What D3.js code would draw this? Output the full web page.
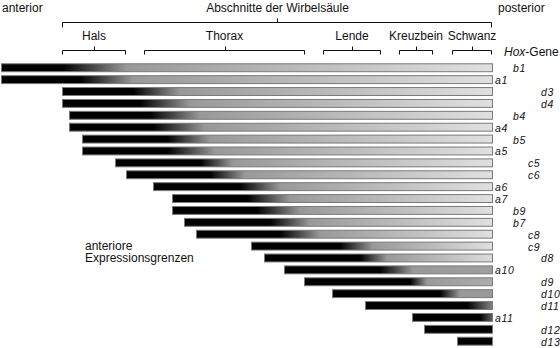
<!DOCTYPE html>
<html>
<head>
<meta charset="utf-8">
<script src="https://cdn.jsdelivr.net/npm/d3@7"></script>
<style>
  html, body { margin: 0; padding: 0; background: #fff; }
  svg { display: block; font-family: "Liberation Sans", Arial, Helvetica, sans-serif; }
</style>
</head>
<body>
<svg id="chart" width="560" height="348"></svg>
<script>
// Hox genes (rows, top to bottom)
const genes = ["b1","a1","d3","d4","b4","a4","b5","a5","c5","c6","a6","a7","b9","b7","c8","c9","d8","a10","d9","d10","d11","a11","d12","d13"];
// anterior expression boundary (position along body axis, posterior end = 492)
const anteriorStart = [1,1,62,62,69,69,82,82,115,126,153,172,172,184,196,251,264,284,304,332,365,412,424,457];
// position where strong (black) expression ends
const blackEnd = [63,80,133,140,150,153,167,167,200,210,240,247,257,270,280,340,360,380,410,440,467,480,492,492];
// position where expression has faded to mid grey
const grayPoint = [127,133,180,190,200,205,210,215,233,245,280,290,300,310,320,373,387,413,427,460,492,492,492,492];
// grey level at the posterior end (0 = black, 1 = white)
const endShade = [0.88,0.88,0.88,0.88,0.88,0.88,0.88,0.88,0.88,0.88,0.88,0.88,0.88,0.88,0.88,0.87,0.86,0.62,0.68,0.6,0.5,0.36,0,0];
const posteriorEnd = 492;

// vertebral column regions
const regions = ["Hals","Thorax","Lende","Kreuzbein","Schwanz"];
const regionStart = [62,144,323,399,452];
const regionEnd = [126,305,381,433,492];

const svg = d3.select("#chart");
const x = d3.scaleLinear().domain([0, posteriorEnd]).range([0, 492]);
const y = d3.scaleBand().domain(genes).range([61.8, 61.8 + 24 * 11.89]).paddingInner(0.25).paddingOuter(0.125);
const labelX = d3.scaleOrdinal().domain(["a","b","c","d"]).range([495, 513, 528, 541]);
const grey = v => d3.rgb(255 * v, 255 * v, 255 * v).formatHex();

// gradients
const defs = svg.append("defs");
genes.forEach((g, i) => {
  const s = anteriorStart[i], e = posteriorEnd;
  const off = p => Math.max(0, Math.min(1, (p - s) / (e - s)));
  const grad = defs.append("linearGradient")
    .attr("id", "grad" + i)
    .attr("gradientUnits", "userSpaceOnUse")
    .attr("x1", x(s)).attr("x2", x(e)).attr("y1", 0).attr("y2", 0);
  const midShade = grayPoint[i] >= e ? endShade[i] : 0.6;
  grad.append("stop").attr("offset", 0).attr("stop-color", "#000");
  grad.append("stop").attr("offset", off(blackEnd[i])).attr("stop-color", "#000");
  grad.append("stop").attr("offset", off(grayPoint[i])).attr("stop-color", grey(midShade));
  grad.append("stop").attr("offset", 1).attr("stop-color", grey(endShade[i]));
});

// bars
svg.append("g").selectAll("rect").data(genes).join("rect")
  .attr("x", (d, i) => x(anteriorStart[i]) + 0.5)
  .attr("y", d => y(d) + 0.5)
  .attr("width", (d, i) => x(posteriorEnd) - x(anteriorStart[i]))
  .attr("height", y.bandwidth() - 1)
  .attr("fill", (d, i) => `url(#grad${i})`)
  .attr("stroke", "#7a7a7a")
  .attr("stroke-width", 1);

// gene labels
svg.append("g").selectAll("text").data(genes).join("text")
  .attr("x", d => labelX(d[0]))
  .attr("y", d => y(d) + y.bandwidth() / 2 + 4.5)
  .attr("font-size", 10.5)
  .attr("font-style", "italic")
  .attr("letter-spacing", 0.6)
  .attr("fill", "#111")
  .text(d => d);

// header texts
const hdr = svg.append("g").attr("font-size", 12).attr("fill", "#111");
hdr.append("text").attr("x", 2).attr("y", 12).text("anterior");
hdr.append("text").attr("x", 498).attr("y", 12).text("posterior");
hdr.append("text").attr("x", x((regionStart[0] + posteriorEnd) / 2) + 0.5).attr("y", 12)
  .attr("text-anchor", "middle").text("Abschnitte der Wirbelsäule");

// brackets
const bracket = (x0, x1, yl, down, up) => {
  const p = d3.path();
  p.moveTo(x0, yl + down); p.lineTo(x0, yl); p.lineTo(x1, yl); p.lineTo(x1, yl + down);
  const c = Math.round((x0 + x1) / 2) + 0.5;
  p.moveTo(c, yl); p.lineTo(c, yl - up);
  svg.append("path").attr("d", p.toString()).attr("fill", "none").attr("stroke", "#111").attr("stroke-width", 1);
};
bracket(Math.round(x(regionStart[0])) + 0.5, Math.round(x(posteriorEnd)) - 0.5, 22.5, 5, 4);
regions.forEach((r, i) => {
  const x0 = Math.round(x(regionStart[i])) + 0.5, x1 = Math.round(x(regionEnd[i])) - 0.5;
  bracket(x0, x1, 50.5, 4, 4);
  hdr.append("text").attr("x", (x0 + x1) / 2).attr("y", 40).attr("text-anchor", "middle").text(r);
});

// Hox-Gene label
const hox = hdr.append("text").attr("x", 504).attr("y", 56);
hox.append("tspan").attr("font-style", "italic").text("Hox");
hox.append("tspan").text("-Gene");

// annotation
const ann = hdr.append("text").attr("x", 85).attr("y", 249.5);
ann.append("tspan").attr("x", 85).text("anteriore");
ann.append("tspan").attr("x", 85).attr("dy", 12.5).text("Expressionsgrenzen");
</script>
</body>
</html>
